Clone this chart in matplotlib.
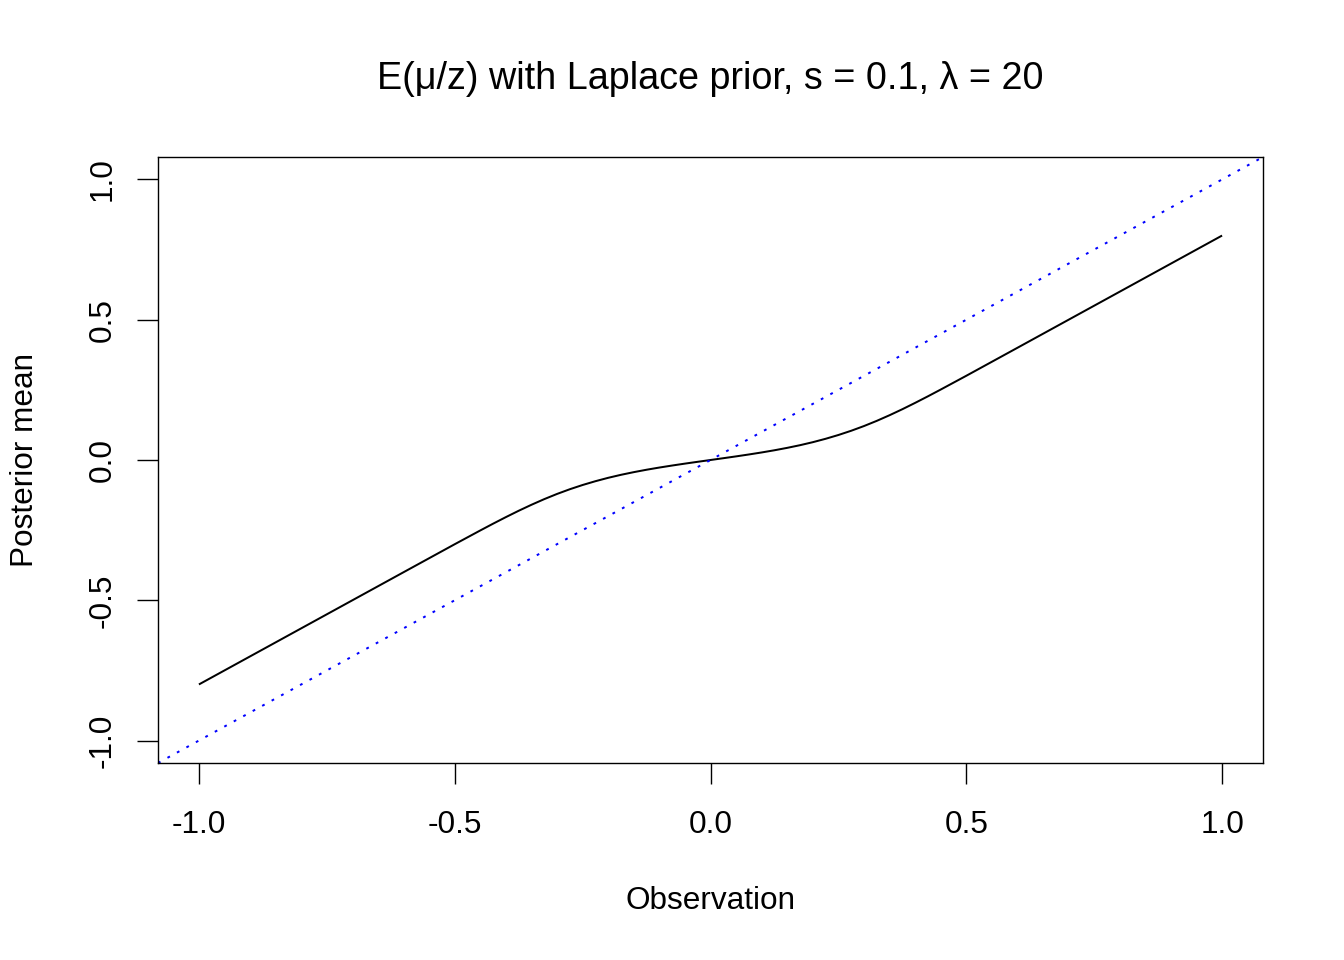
import matplotlib
matplotlib.use("Agg")
import matplotlib.pyplot as plt

plt.rcParams['font.family'] = ['Liberation Sans', 'DejaVu Sans']

# Observation grid and posterior mean (Laplace prior, s = 0.1, lambda = 20)
observation = [-1.0, -0.6, -0.55, -0.5, -0.45, -0.425, -0.4, -0.375, -0.35, -0.325,
               -0.3, -0.275, -0.25, -0.225, -0.2, -0.175, -0.15, -0.125, -0.1,
               -0.075, -0.05, -0.025, 0.0, 0.025, 0.05, 0.075, 0.1, 0.125, 0.15,
               0.175, 0.2, 0.225, 0.25, 0.275, 0.3, 0.325, 0.35, 0.375, 0.4,
               0.425, 0.45, 0.5, 0.55, 0.6, 1.0]
posterior_mean = [-0.8, -0.4, -0.3501, -0.3002, -0.2511, -0.2270, -0.2036, -0.1810,
                  -0.1596, -0.1395, -0.1210, -0.1042, -0.0891, -0.0756, -0.0635,
                  -0.0528, -0.0433, -0.0347, -0.0269, -0.0197, -0.0129, -0.0064,
                  0.0, 0.0064, 0.0129, 0.0197, 0.0269, 0.0347, 0.0433, 0.0528,
                  0.0635, 0.0756, 0.0891, 0.1042, 0.1210, 0.1395, 0.1596, 0.1810,
                  0.2036, 0.2270, 0.2511, 0.3002, 0.3501, 0.4, 0.8]
ticks = [-1.0, -0.5, 0.0, 0.5, 1.0]
tick_labels = ["-1.0", "-0.5", "0.0", "0.5", "1.0"]

fig = plt.figure(figsize=(13.44, 9.6), dpi=100)
ax = fig.add_axes([158/1344, 1-763/960, (1263-158)/1344, (763-157)/960])

ax.plot(observation, posterior_mean, color='black', lw=1.44, solid_capstyle='butt')
ax.axline((0, 0), slope=1, color='blue', lw=1.44, linestyle=(0, (1.4, 4.0)))

ax.set_xlim(-1.08, 1.08)
ax.set_ylim(-1.08, 1.08)
ax.set_xticks(ticks)
ax.set_xticklabels(tick_labels)
ax.set_yticks(ticks)
ax.set_yticklabels(tick_labels, rotation=90, va='center')
ax.tick_params(axis='both', length=15, width=1.0, labelsize=22.7, direction='out')
ax.tick_params(axis='x', pad=19)
ax.tick_params(axis='y', pad=14)
for sp in ax.spines.values():
    sp.set_linewidth(1.0)

fig.text((158+1263)/2/1344, 1-901/960, "Observation", ha='center', va='center', fontsize=22.7)
fig.text(25/1344, 1-460/960, "Posterior mean", ha='center', va='center', rotation=90, fontsize=22.7)
fig.text(710/1344, 1-79/960, "E(μ/z) with Laplace prior, s = 0.1, λ = 20",
         ha='center', va='center', fontsize=27.2)

fig.savefig("out.png", dpi=100)
